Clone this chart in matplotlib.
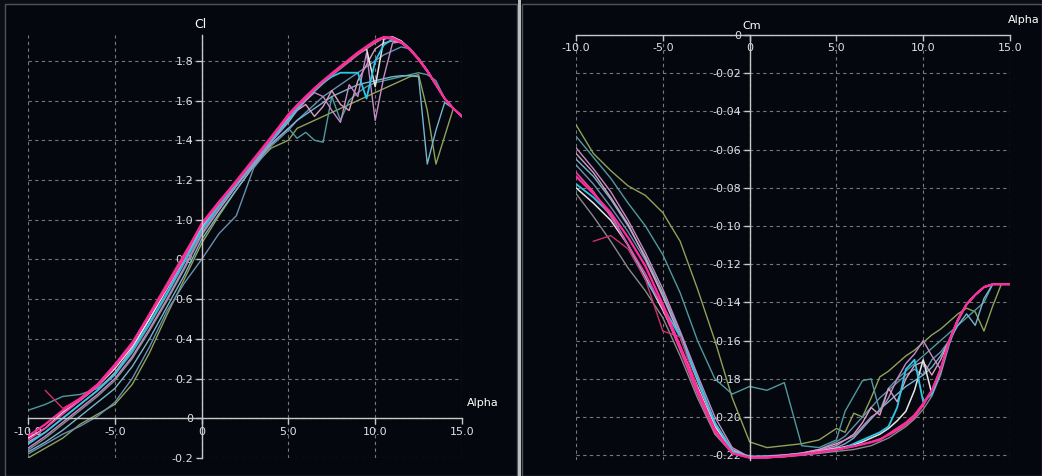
import numpy as np
import matplotlib.pyplot as plt
from matplotlib.patches import Rectangle

nan = np.nan

# angle of attack grid shared by all polars
alpha = [-10, -9, -8, -7, -6, -5, -4, -3, -2, -1, 0, 1, 2, 3, 4, 5, 5.5, 6, 6.5, 7,
         7.5, 8, 8.5, 9, 9.5, 10, 10.5, 11, 11.5, 12, 12.5, 13, 13.5, 14, 14.5, 15]

# lift coefficient polars
cl_magenta = [-0.09, -0.03, 0.04, 0.10, 0.17, 0.27, 0.38, 0.52, 0.66, 0.81, 0.98, 1.09, 1.19, 1.30, 1.41, 1.53, 1.575, 1.62, 1.66, 1.70,
              1.735, 1.77, 1.805, 1.84, 1.87, 1.90, 1.92, 1.915, 1.895, 1.86, 1.81, 1.75, 1.68, 1.61, 1.56, 1.52]
cl_hotpink = [-0.11, -0.05, 0.02, 0.09, 0.16, 0.26, 0.37, 0.52, 0.67, 0.82, 0.97, 1.08, 1.19, 1.30, 1.41, 1.52, 1.57, 1.61, 1.655, 1.695,
              1.73, 1.765, 1.80, 1.835, 1.865, 1.895, 1.915, 1.91, 1.89, 1.855, 1.805, 1.745, 1.68, 1.61, 1.56, 1.52]
cl_red = [nan, 0.14, 0.05, 0.10, 0.17, 0.26, 0.38, 0.53, 0.68, 0.83, 0.98, 1.09, 1.20, 1.31, 1.42, 1.53, 1.58, 1.62, 1.665, 1.70,
          1.74, 1.775, 1.81, 1.845, 1.875, 1.905, 1.92, 1.915, 1.89, 1.855, 1.805, 1.745, 1.68, 1.61, 1.56, 1.52]
cl_cyan = [-0.13, -0.07, 0.00, 0.07, 0.14, 0.22, 0.34, 0.48, 0.63, 0.79, 0.95, 1.07, 1.18, 1.29, 1.40, 1.50, 1.56, 1.61, 1.65, 1.69,
           1.72, 1.74, 1.74, 1.74, 1.61, 1.80, 1.88, 1.91, 1.895, 1.86, 1.81, 1.75, 1.68, 1.61, 1.56, 1.52]
cl_white = [-0.10, -0.05, 0.03, 0.09, 0.16, 0.25, 0.36, 0.50, 0.65, 0.80, 0.96, 1.08, 1.19, 1.30, 1.41, 1.52, 1.57, 1.615, 1.66, 1.70,
            1.73, 1.77, 1.80, 1.84, 1.86, 1.67, 1.91, 1.92, 1.90, 1.86, 1.81, 1.75, 1.68, 1.61, 1.56, 1.52]
cl_lavender = [-0.15, -0.09, -0.02, 0.05, 0.12, 0.20, 0.31, 0.45, 0.60, 0.76, 0.93, 1.05, 1.17, 1.28, 1.39, 1.49, 1.55, 1.60, 1.64, 1.62,
               1.55, 1.49, 1.68, 1.62, 1.84, 1.50, 1.72, 1.89, 1.895, 1.86, 1.81, 1.75, 1.68, 1.61, 1.56, 1.52]
cl_lightblue = [-0.17, -0.12, -0.06, 0.01, 0.08, 0.15, 0.26, 0.40, 0.56, 0.72, 0.90, 1.03, 1.15, 1.27, 1.38, 1.46, 1.50, 1.53, 1.56, 1.59,
                1.62, 1.64, 1.66, 1.68, 1.69, 1.70, 1.71, 1.72, 1.725, 1.725, 1.72, 1.28, 1.45, 1.59, 1.56, 1.52]
cl_olive = [-0.20, -0.15, -0.10, -0.03, 0.02, 0.07, 0.17, 0.33, 0.52, 0.70, 0.88, 1.02, 1.15, 1.27, 1.36, 1.40, 1.46, 1.48, 1.50, 1.52,
            1.54, 1.56, 1.58, 1.60, 1.62, 1.64, 1.66, 1.68, 1.70, 1.72, 1.73, 1.55, 1.28, 1.42, 1.56, 1.52]
cl_teal = [0.04, 0.07, 0.11, 0.12, 0.15, 0.22, 0.33, 0.47, 0.62, 0.78, 0.94, 1.06, 1.17, 1.28, 1.38, 1.46, 1.41, 1.44, 1.40, 1.39,
           1.62, 1.50, 1.60, 1.64, 1.67, 1.69, 1.70, 1.71, 1.72, 1.73, 1.74, 1.73, 1.70, 1.61, 1.56, 1.52]
cl_bluegray = [-0.18, -0.13, -0.08, -0.04, 0.01, 0.08, 0.20, 0.36, 0.54, 0.68, 0.80, 0.93, 1.02, 1.26, 1.37, 1.45, 1.50, 1.54, 1.58, 1.62,
               1.65, 1.68, 1.71, 1.74, 1.77, 1.80, 1.83, 1.85, 1.87, 1.86, 1.81, 1.75, 1.68, 1.61, 1.56, 1.52]
cl_gray = [-0.16, -0.10, -0.03, 0.04, 0.11, 0.19, 0.30, 0.44, 0.59, 0.75, 0.92, 1.05, 1.17, 1.29, 1.40, 1.50, 1.55, 1.60, 1.645, 1.685,
           1.725, 1.76, 1.795, 1.83, 1.86, 1.89, 1.915, 1.92, 1.90, 1.86, 1.81, 1.75, 1.68, 1.61, 1.56, 1.52]
cl_palepink = [-0.12, -0.07, 0.00, 0.07, 0.14, 0.23, 0.35, 0.50, 0.66, 0.82, 0.97, 1.08, 1.19, 1.30, 1.41, 1.51, 1.55, 1.58, 1.52, 1.57,
               1.65, 1.58, 1.55, 1.70, 1.78, 1.86, 1.89, 1.90, 1.89, 1.86, 1.81, 1.75, 1.68, 1.61, 1.56, 1.52]

# pitching moment polars
cm_magenta = [-0.074, -0.083, -0.093, -0.106, -0.121, -0.141, -0.163, -0.186, -0.207, -0.219, -0.2213, -0.2212, -0.2205, -0.2195, -0.2183, -0.217, -0.2162, -0.2153, -0.2143, -0.2132,
              -0.212, -0.209, -0.206, -0.203, -0.199, -0.193, -0.186, -0.175, -0.160, -0.149, -0.141, -0.136, -0.132, -0.1305, -0.1305, -0.1305]
cm_hotpink = [-0.072, -0.082, -0.095, -0.110, -0.125, -0.143, -0.165, -0.188, -0.208, -0.219, -0.2212, -0.2212, -0.2207, -0.2198, -0.2186, -0.2172, -0.2163, -0.2153, -0.2142, -0.213,
              -0.2115, -0.2095, -0.207, -0.204, -0.200, -0.194, -0.186, -0.175, -0.160, -0.149, -0.141, -0.136, -0.132, -0.1305, -0.1305, -0.1305]
cm_red = [nan, -0.108, -0.105, -0.112, -0.128, -0.155, -0.158, -0.185, -0.206, -0.219, -0.2213, -0.2212, -0.2206, -0.2196, -0.2184, -0.2171, -0.2162, -0.2153, -0.2143, -0.2132,
          -0.212, -0.209, -0.206, -0.203, -0.199, -0.193, -0.186, -0.175, -0.160, -0.149, -0.141, -0.136, -0.132, -0.1305, -0.1305, -0.1305]
cm_cyan = [-0.078, -0.085, -0.094, -0.110, -0.128, -0.142, -0.158, -0.180, -0.203, -0.218, -0.2212, -0.2212, -0.2205, -0.2195, -0.2185, -0.217, -0.216, -0.214, -0.212, -0.210,
           -0.208, -0.205, -0.195, -0.175, -0.170, -0.192, -0.188, -0.176, -0.161, -0.149, -0.141, -0.136, -0.132, -0.1305, -0.1305, -0.1305]
cm_white = [-0.080, -0.088, -0.097, -0.110, -0.127, -0.144, -0.163, -0.184, -0.205, -0.218, -0.2212, -0.2210, -0.2203, -0.2193, -0.218, -0.2165, -0.2155, -0.2145, -0.213, -0.211,
            -0.209, -0.206, -0.202, -0.197, -0.186, -0.170, -0.188, -0.176, -0.160, -0.149, -0.141, -0.136, -0.132, -0.1305, -0.1305, -0.1305]
cm_lavender = [-0.059, -0.070, -0.082, -0.097, -0.114, -0.133, -0.155, -0.178, -0.200, -0.216, -0.2210, -0.2208, -0.220, -0.219, -0.2175, -0.215, -0.212, -0.210, -0.205, -0.200,
               -0.197, -0.190, -0.180, -0.172, -0.167, -0.160, -0.168, -0.175, -0.160, -0.149, -0.141, -0.136, -0.132, -0.1305, -0.1305, -0.1305]
cm_lightblue = [-0.065, -0.074, -0.086, -0.100, -0.116, -0.135, -0.156, -0.180, -0.203, -0.218, -0.2208, -0.2205, -0.220, -0.219, -0.2175, -0.216, -0.214, -0.211, -0.206, -0.201,
                -0.196, -0.192, -0.188, -0.184, -0.181, -0.178, -0.174, -0.168, -0.160, -0.152, -0.146, -0.152, -0.138, -0.1305, -0.1305, -0.1305]
cm_olive = [-0.047, -0.062, -0.071, -0.079, -0.084, -0.093, -0.108, -0.133, -0.160, -0.190, -0.213, -0.216, -0.215, -0.214, -0.212, -0.206, -0.208, -0.198, -0.200, -0.190,
            -0.179, -0.176, -0.172, -0.168, -0.165, -0.161, -0.157, -0.154, -0.150, -0.146, -0.143, -0.145, -0.155, -0.142, -0.1305, -0.1305]
cm_teal = [-0.053, -0.064, -0.075, -0.088, -0.100, -0.115, -0.135, -0.160, -0.180, -0.188, -0.184, -0.186, -0.182, -0.215, -0.216, -0.212, -0.197, -0.189, -0.181, -0.180,
           -0.197, -0.185, -0.180, -0.176, -0.172, -0.168, -0.164, -0.160, -0.156, -0.152, -0.148, -0.144, -0.140, -0.1305, -0.1305, -0.1305]
cm_gray = [-0.083, -0.095, -0.108, -0.122, -0.134, -0.148, -0.168, -0.190, -0.209, -0.219, -0.2210, -0.2212, -0.2208, -0.220, -0.219, -0.218, -0.2175, -0.217, -0.216, -0.215,
           -0.213, -0.211, -0.208, -0.205, -0.201, -0.196, -0.189, -0.178, -0.162, -0.150, -0.141, -0.136, -0.132, -0.1305, -0.1305, -0.1305]
cm_palepink = [-0.062, -0.072, -0.085, -0.099, -0.117, -0.137, -0.158, -0.181, -0.203, -0.217, -0.2210, -0.2207, -0.2200, -0.219, -0.217, -0.214, -0.212, -0.209, -0.203, -0.195,
               -0.199, -0.185, -0.192, -0.180, -0.173, -0.171, -0.178, -0.170, -0.160, -0.149, -0.141, -0.136, -0.132, -0.1305, -0.1305, -0.1305]
cm_bluegray = [-0.068, -0.078, -0.090, -0.103, -0.118, -0.136, -0.158, -0.181, -0.204, -0.218, -0.2205, -0.2203, -0.2198, -0.2188, -0.217, -0.213, -0.210, -0.205, -0.200, -0.195,
               -0.190, -0.186, -0.182, -0.178, -0.175, -0.178, -0.170, -0.166, -0.160, -0.149, -0.141, -0.136, -0.132, -0.1305, -0.1305, -0.1305]

# ticks and labels
x_ticks = [-10, -5, 0, 5, 10, 15]
x_ticklabels = ['-10.0', '-5.0', '0', '5.0', '10.0', '15.0']
cl_ticks = [-0.2, 0, 0.2, 0.4, 0.6, 0.8, 1.0, 1.2, 1.4, 1.6, 1.8]
cl_ticklabels = ['-0.2', '0', '0.2', '0.4', '0.6', '0.8', '1.0', '1.2', '1.4', '1.6', '1.8']
cm_ticks = [0, -0.02, -0.04, -0.06, -0.08, -0.10, -0.12, -0.14, -0.16, -0.18, -0.20, -0.22]
cm_ticklabels = ['0', '-0.02', '-0.04', '-0.06', '-0.08', '-0.10', '-0.12', '-0.14', '-0.16', '-0.18', '-0.20', '-0.22']

cl_series = [cl_gray, cl_olive, cl_teal, cl_bluegray, cl_lightblue, cl_palepink, cl_lavender,
             cl_white, cl_cyan, cl_red, cl_hotpink, cl_magenta]
cm_series = [cm_gray, cm_olive, cm_teal, cm_bluegray, cm_lightblue, cm_palepink, cm_lavender,
             cm_white, cm_cyan, cm_red, cm_hotpink, cm_magenta]
colors = ['#8a8a8a', '#8fa25a', '#4f9a9e', '#6a8fb0', '#78b4cc', '#d8a0c0', '#c58ac6',
          '#e6e6e6', '#2fc6e8', '#d0306a', '#e8479f', '#ff2a9c']
widths = [1.0, 1.0, 1.0, 1.0, 1.0, 1.0, 1.0, 1.1, 1.3, 1.0, 1.2, 1.6]

W, H = 1042, 476
bg = '#04070d'
axis_col = '#c8c8c8'
text_col = '#dde0e6'

fig = plt.figure(figsize=(W / 100, H / 100), dpi=100, facecolor='#0b0e15')

# panel backgrounds and the splitter between them (behind the axes)
fig.patches.append(Rectangle((5 / W, 0), 512 / W, 472 / H, transform=fig.transFigure,
                             facecolor=bg, edgecolor='#50535a', lw=1, zorder=-5))
fig.patches.append(Rectangle((522 / W, 0), 520 / W, 472 / H, transform=fig.transFigure,
                             facecolor=bg, edgecolor='#50535a', lw=1, zorder=-5))
fig.patches.append(Rectangle((518 / W, 0), 3 / W, 1, transform=fig.transFigure,
                             facecolor='#bdbdbd', edgecolor='none', zorder=-5))


def style(ax):
    ax.set_facecolor(bg)
    ax.patch.set_alpha(0)
    for s in ['top', 'right']:
        ax.spines[s].set_visible(False)
    for s in ['left', 'bottom']:
        ax.spines[s].set_position(('data', 0))
        ax.spines[s].set_color(axis_col)
        ax.spines[s].set_linewidth(1)
    ax.tick_params(direction='out', length=4, width=1, color=axis_col,
                   labelcolor=text_col, labelsize=8, pad=2)
    ax.grid(True, color='#787878', lw=0.8, ls=(0, (3, 3)))
    ax.set_axisbelow(True)


# Cl panel
ax1 = fig.add_axes([28 / W, 1 - 458 / H, 434 / W, 423 / H])
style(ax1)
for ys, c, lw in zip(cl_series, colors, widths):
    ax1.plot(alpha, ys, color=c, lw=lw)
ax1.set_xlim(-10, 15)
ax1.set_ylim(-0.2, 1.93)
ax1.set_xticks(x_ticks)
ax1.set_xticklabels(x_ticklabels)
ax1.set_yticks(cl_ticks)
ax1.set_yticklabels(cl_ticklabels)
fig.text(200 / W, 1 - 25 / H, 'Cl', color='white', fontsize=9, ha='center', va='center')
fig.text(467 / W, 1 - 403 / H, 'Alpha', color='white', fontsize=8, ha='left', va='center')

# Cm panel
ax2 = fig.add_axes([576 / W, 1 - 460 / H, 434 / W, 425 / H])
style(ax2)
for ys, c, lw in zip(cm_series, colors, widths):
    ax2.plot(alpha, ys, color=c, lw=lw)
ax2.set_xlim(-10, 15)
ax2.set_ylim(-0.2225, 0)
ax2.set_xticks(x_ticks)
ax2.set_xticklabels(x_ticklabels)
ax2.set_yticks(cm_ticks)
ax2.set_yticklabels(cm_ticklabels)
fig.text(752 / W, 1 - 26 / H, 'Cm', color='white', fontsize=8, ha='center', va='center')
fig.text(1040 / W, 1 - 20 / H, 'Alpha', color='white', fontsize=8, ha='right', va='center')

fig.savefig('out.png', dpi=100, facecolor=fig.get_facecolor())
